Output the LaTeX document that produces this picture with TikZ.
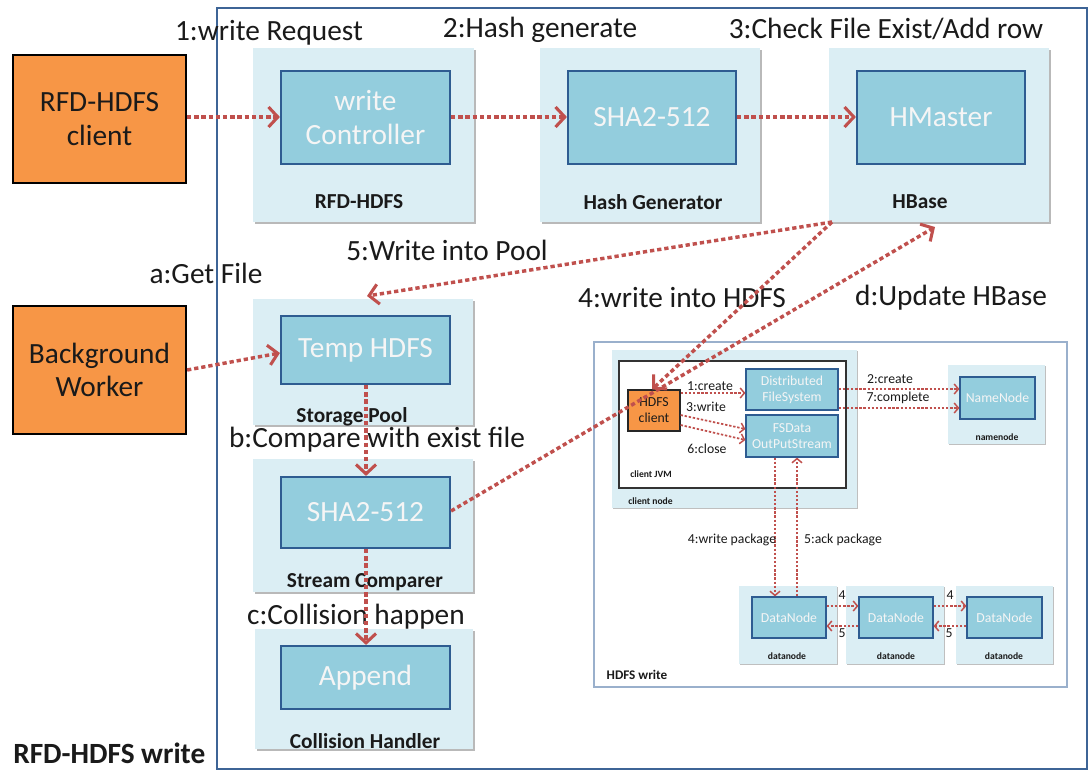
\documentclass[tikz,border=0pt]{standalone}
\usepackage{fontspec}
\setmainfont{Carlito}
\usetikzlibrary{arrows.meta,shadows,fit}

\definecolor{panelbg}{HTML}{DBEEF4}
\definecolor{boxbg}{HTML}{93CDDD}
\definecolor{boxline}{HTML}{2E5C91}
\definecolor{orangebox}{HTML}{F79646}
\definecolor{flow}{HTML}{C0504D}
\definecolor{framec}{HTML}{3D6496}
\definecolor{insetline}{HTML}{9AB0CC}
\definecolor{inktext}{HTML}{1A1A1A}

\newcommand\lgfont{\fontsize{22}{25}\selectfont}
\newcommand\lblfont{\fontsize{16}{18}\selectfont\bfseries}
\newcommand\smfont{\fontsize{10.3}{12}\selectfont}
\newcommand\tinybold{\fontsize{7.2}{8.5}\selectfont\bfseries}

\tikzset{
  panel/.style={fill=panelbg, draw=none, inner sep=0pt,
    drop shadow={shadow xshift=1.6pt, shadow yshift=-1.6pt, fill=black!50, opacity=0.55}},
  smallpanel/.style={fill=panelbg, draw=none, inner sep=0pt,
    drop shadow={shadow xshift=1pt, shadow yshift=-1pt, fill=black!50, opacity=0.5}},
  inbox/.style={fill=boxbg, draw=boxline, line width=1.6pt, inner sep=0pt},
  smallbox/.style={fill=boxbg, draw=boxline, line width=0.9pt, inner sep=0pt},
  clientbox/.style={fill=orangebox, draw=black, line width=1.6pt, inner sep=0pt},
  intext/.style={align=center, text=white!96!black, font=\lgfont, inner sep=0pt},
  smintext/.style={align=center, text=white!96!black, font=\smfont, inner sep=0pt},
  clienttext/.style={align=center, text=inktext, font=\lgfont, inner sep=0pt},
  plabel/.style={font=\lblfont, text=inktext, inner sep=0pt},
  steplabel/.style={font=\lgfont, text=inktext, inner sep=0pt},
  smlabel/.style={font=\smfont, text=inktext, inner sep=0pt},
  tinylabel/.style={font=\tinybold, text=inktext, inner sep=0pt},
  flowarrow/.style={draw=flow, line width=2.6pt, dash pattern=on 3.2pt off 2.2pt,
    -{Straight Barb[length=7pt,width=15pt,line width=2.3pt]}},
  smallarrow/.style={draw=flow, line width=1.3pt, dash pattern=on 1.8pt off 1.3pt,
    -{Straight Barb[length=3.2pt,width=7.5pt,line width=1.1pt]}},
}

\begin{document}
\begin{tikzpicture}[x=0.75pt,y=-0.75pt]
\useasboundingbox (0,0) rectangle (1092,772);
\fill[white] (0,0) rectangle (1092,772);

% outer frame of the write path
\draw[framec, line width=2pt] (217,8) rectangle (1087,769);

% external actors
\node[clientbox, fit={(13,55)(186,183)}] (rfdc) {};
\node[clienttext] (rfdc-t) at (rfdc.center) {RFD-HDFS\\client};
\node[clientbox, fit={(13,306)(186,434)}] (bgw) {};
\node[clienttext] (bgw-t) at (bgw.center) {Background\\Worker};

% top row: RFD-HDFS, Hash Generator, HBase
\node[panel, fit={(253,48)(474,222)}] (prfd) {};
\node[inbox, fit={(281,71)(450,164)}] (wctl) {};
\node[intext] (wctl-t) at (wctl.center) {write\\Controller};
\node[plabel] (lrfd) at (359,202) {RFD-HDFS};

\node[panel, fit={(540,48)(760,222)}] (phash) {};
\node[inbox, fit={(568,71)(736,164)}] (sha1) {};
\node[intext] (sha1-t) at (sha1.center) {SHA2-512};
\node[plabel] (lhash) at (653,202) {Hash Generator};

\node[panel, fit={(829,48)(1049,222)}] (phb) {};
\node[inbox, fit={(857,71)(1025,164)}] (hm) {};
\node[intext] (hm-t) at (hm.center) {HMaster};
\node[plabel] (lhb) at (920,202) {HBase};

% left column: Storage Pool, Stream Comparer, Collision Handler
\node[panel, fit={(253,299)(473,425)}] (ppool) {};
\node[inbox, fit={(281,316)(450,384)}] (tmp) {};
\node[intext] (tmp-t) at (tmp.center) {Temp HDFS};
\node[plabel] (lpool) at (352,417) {Storage Pool};

\node[panel, fit={(253,459)(473,592)}] (pcmp) {};
\node[inbox, fit={(281,477)(450,548)}] (sha2) {};
\node[intext] (sha2-t) at (sha2.center) {SHA2-512};
\node[plabel] (lcmp) at (365,582) {Stream Comparer};

\node[panel, fit={(255,629)(473,749)}] (pcol) {};
\node[inbox, fit={(281,646)(450,709)}] (app) {};
\node[intext] (app-t) at (app.center) {Append};
\node[plabel] (lcol) at (365,741) {Collision Handler};

% HDFS write inset
\draw[insetline, line width=0.9pt] (594,342) rectangle (1067,687);
\node[smallpanel, fit={(612,350)(857,508)}] (pcn) {};
\node[tinylabel, anchor=west] (lcn) at (628,501) {client node};
\node[fill=white, draw=black!80, line width=1.1pt, inner sep=0pt, fit={(619,361)(846,488)}] (jvm) {};
\node[tinylabel, anchor=west] (ljvm) at (630,474) {client JVM};
\node[fill=orangebox, draw=black!85, line width=0.9pt, inner sep=0pt, fit={(628,390)(680,431)}] (hc) {};
\node[align=center, font=\smfont, text=inktext, inner sep=0pt] (hc-t) at (hc.center) {HDFS\\client};
\node[smallbox, fit={(746,369)(838,410)}] (dfs) {};
\node[smintext] (dfs-t) at (dfs.center) {Distributed\\FileSystem};
\node[smallbox, fit={(746,415)(838,457)}] (fsd) {};
\node[smintext] (fsd-t) at (fsd.center) {FSData\\OutPutStream};

\node[smallpanel, fit={(948,365)(1045,444)}] (pnn) {};
\node[smallbox, fit={(960,377)(1035,419)}] (nn) {};
\node[smintext] (nn-t) at (nn.center) {NameNode};
\node[tinylabel] (lnn) at (997,437) {namenode};

\node[smallpanel, fit={(739,586)(837,664)}] (pd1) {};
\node[smallbox, fit={(752,597)(826,638)}] (dn1) {};
\node[smintext] (dn1-t) at (dn1.center) {DataNode};
\node[tinylabel] (ld1) at (787,656) {datanode};
\node[smallpanel, fit={(846,586)(944,664)}] (pd2) {};
\node[smallbox, fit={(859,597)(933,638)}] (dn2) {};
\node[smintext] (dn2-t) at (dn2.center) {DataNode};
\node[tinylabel] (ld2) at (896,656) {datanode};
\node[smallpanel, fit={(956,586)(1053,664)}] (pd3) {};
\node[smallbox, fit={(967,597)(1042,638)}] (dn3) {};
\node[smintext] (dn3-t) at (dn3.center) {DataNode};
\node[tinylabel] (ld3) at (1004,656) {datanode};

\node[font=\fontsize{9.9}{11}\selectfont\bfseries, text=inktext, inner sep=0pt] (lhw) at (637,675) {HDFS write};

% inset connectors
\draw[smallarrow] (hc.east |- 0,393) -- (dfs.west |- 0,393);
\draw[smallarrow] (hc.east |- 0,415) -- (fsd.west |- 0,429);
\draw[smallarrow] (hc.east |- 0,425) -- (fsd.west |- 0,440);
\draw[smallarrow] (dfs.east |- 0,389) -- (nn.west |- 0,389);
\draw[smallarrow] (dfs.east |- 0,408) -- (nn.west |- 0,408);
\draw[smallarrow] (fsd.south -| 775,0) -- (dn1.north -| 775,0);
\draw[smallarrow] (dn1.north -| 797,0) -- (fsd.south -| 797,0);
\draw[smallarrow] (dn1.east |- 0,606) -- (dn2.west |- 0,606);
\draw[smallarrow] (dn2.west |- 0,626) -- (dn1.east |- 0,626);
\draw[smallarrow] (dn2.east |- 0,606) -- (dn3.west |- 0,606);
\draw[smallarrow] (dn3.west |- 0,626) -- (dn2.east |- 0,626);

\node[smlabel] (l1c) at (710,386) {1:create};
\node[smlabel] (l3w) at (706,407) {3:write};
\node[smlabel] (l6c) at (707,449) {6:close};
\node[smlabel] (l2c) at (890,379) {2:create};
\node[smlabel] (l7c) at (898,398) {7:complete};
\node[smlabel] (l4p) at (732,540) {4:write package};
\node[smlabel] (l5p) at (843,540) {5:ack package};
\node[smlabel] (n4a) at (842,595) {4};
\node[smlabel] (n5a) at (842,633) {5};
\node[smlabel] (n4b) at (950,595) {4};
\node[smlabel] (n5b) at (949,633) {5};

% step labels
\node[steplabel] (s1) at (269,33) {1:write Request};
\node[steplabel] (s2) at (540,30) {2:Hash generate};
\node[steplabel] (s3) at (886,29) {3:Check File Exist/Add row};
\node[steplabel] (s5) at (447,250) {5:Write into Pool};
\node[steplabel] (sa) at (206,273) {a:Get File};
\node[steplabel] (s4) at (682,298) {4:write into HDFS};
\node[steplabel] (sd) at (951,298) {d:Update HBase};
\node[steplabel] (sb) at (377,440) {b:Compare with exist file};
\node[steplabel] (sc) at (356,617) {c:Collision happen};
\node[font=\fontsize{22}{25}\selectfont\bfseries, text=inktext, inner sep=0pt, anchor=base west] (title) at (13,763) {RFD-HDFS write};

% main data flow
\coordinate (hbcorner) at (832,222);
\draw[flowarrow] (rfdc.east |- 0,117) -- (wctl.west |- 0,117);
\draw[flowarrow] (wctl.east |- 0,117) -- (sha1.west |- 0,117);
\draw[flowarrow] (sha1.east |- 0,117) -- (hm.west |- 0,117);
\draw[flowarrow] (hbcorner) -- (367,296);
\draw[flowarrow] (hbcorner) -- (hc.north -| 652,0);
\draw[flowarrow] (bgw.east |- 0,370) -- (tmp.west |- 0,353);
\draw[flowarrow] (tmp.south -| 366,0) -- (sha2.north -| 366,0);
\draw[flowarrow] (sha2.south -| 366,0) -- (app.north -| 366,0);
\draw[flowarrow] (sha2.east |- 0,511) -- (935,227);
\end{tikzpicture}
\end{document}
